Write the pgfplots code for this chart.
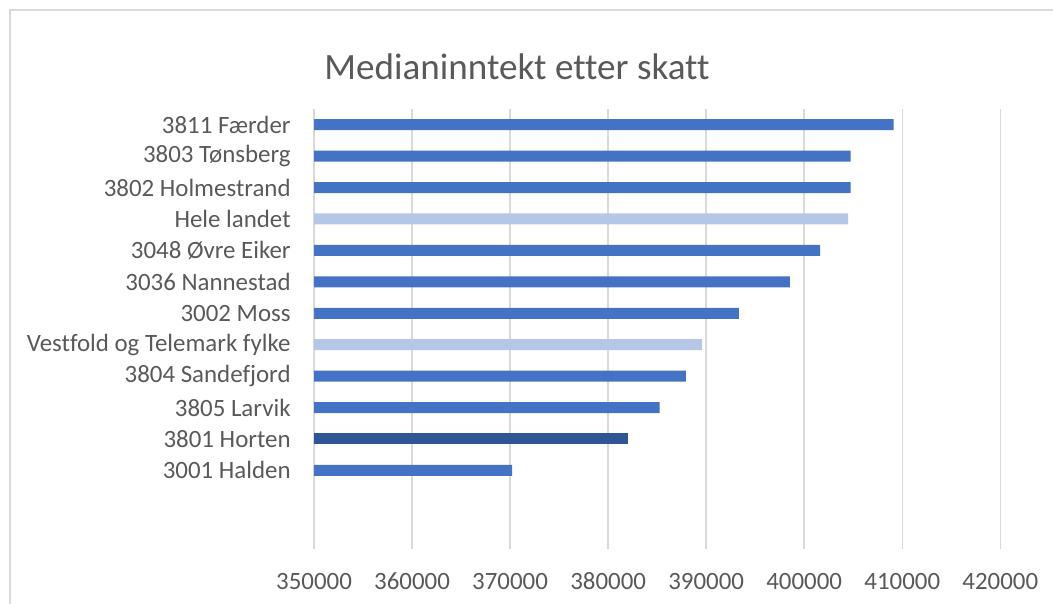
\documentclass[border=0pt]{standalone}
\usepackage{pgfplots}
\pgfplotsset{compat=1.18}
\usepackage{fontspec}
\setmainfont{Carlito}[Ligatures=NoCommon]
\definecolor{mainblue}{HTML}{4472C4}
\definecolor{lightblue}{HTML}{B4C7E7}
\definecolor{darkblue}{HTML}{2F5597}
\definecolor{txt}{HTML}{595959}
\definecolor{gridc}{HTML}{D9D9D9}
\begin{document}
\begin{tikzpicture}
\path[use as bounding box] (0pt,0pt) rectangle (526.5pt,302pt);
\draw[gridc, line width=0.75pt] (5pt,0pt) -- (5pt,297pt) -- (526.5pt,297pt);
\node[text=txt, font=\fontsize{18.55}{22}\selectfont, anchor=base, inner sep=0pt] at (258.5pt,262pt) {Medianinntekt etter skatt};
\begin{axis}[at={(157pt,27.5pt)}, anchor=south west, scale only axis,
  width=343.15pt, height=220pt,
  xbar, bar width=5.5pt, bar shift=0pt,
  xmin=350000, xmax=420000, ymin=-0.5, ymax=13.5,
  xtick={350000,360000,...,420000},
  ytick={2,...,13},
  yticklabels={3001 Halden, 3801 Horten, 3805 Larvik, 3804 Sandefjord, Vestfold og Telemark fylke\hspace{2.8pt}, 3002 Moss, 3036 Nannestad, 3048 Øvre Eiker, Hele landet, 3802 Holmestrand, 3803 Tønsberg, 3811 Færder},
  axis line style={draw=none}, major tick length=0pt,
  xmajorgrids, grid style={gridc, line width=0.75pt},
  scaled x ticks=false,
  xticklabel={\pgfmathprintnumber[fixed,precision=0,1000 sep={},assume math mode=true]{\tick}},
  tick label style={font=\fontsize{12.45}{15}\selectfont, text=txt},
  xticklabel style={anchor=base, inner sep=0pt, yshift=-20pt},
  yticklabel style={anchor=east, inner sep=0pt, xshift=-11.5pt},
]
\addplot[fill=mainblue, draw=none] coordinates {(409110,13) (404730,12) (404730,11) (401630,9) (398540,8) (393330,7) (387930,5) (385240,4) (370200,2)};
\addplot[fill=lightblue, draw=none] coordinates {(404490,10) (389590,6)};
\addplot[fill=darkblue, draw=none] coordinates {(382040,3)};
\end{axis}
\end{tikzpicture}
\end{document}
